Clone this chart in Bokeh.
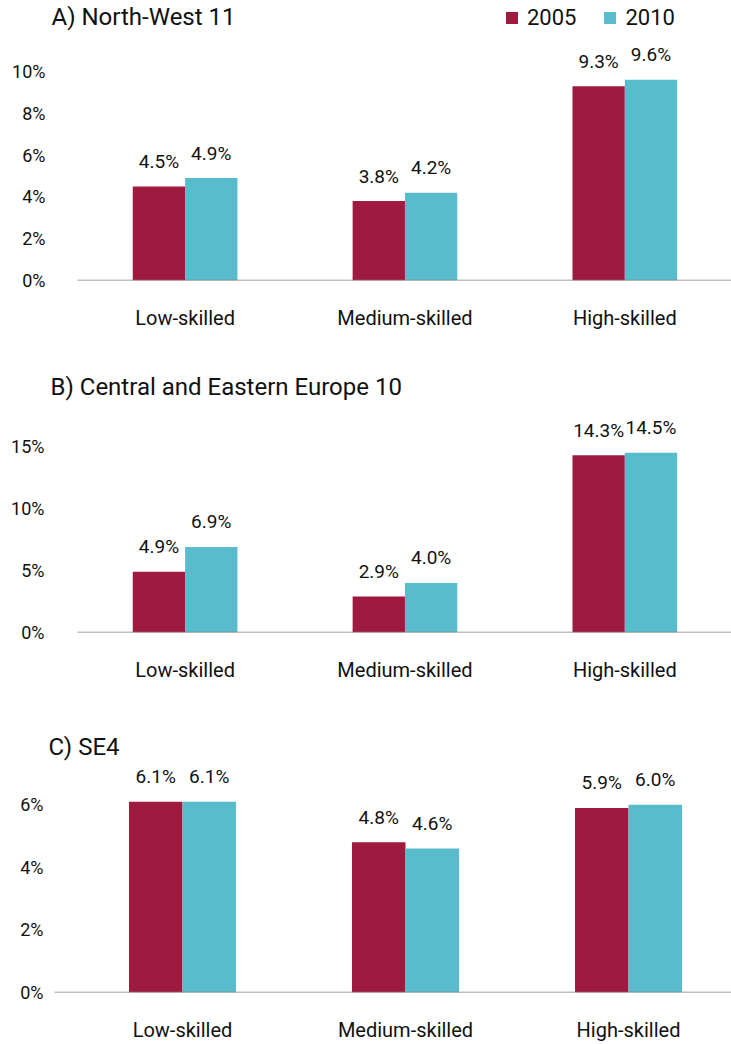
import numpy as np
from bokeh.plotting import figure
from bokeh.layouts import column
from bokeh.models import (ColumnDataSource, Range1d, FixedTicker, PrintfTickFormatter,
                          Label, Legend, LegendItem)
from bokeh.core.properties import value
from bokeh.embed import file_html
from bokeh.resources import INLINE

# ---- data ----
categories = ["Low-skilled", "Medium-skilled", "High-skilled"]
years = ["2005", "2010"]
nw_2005 = [4.5, 3.8, 9.3]
nw_2010 = [4.9, 4.2, 9.6]
cee_2005 = [4.9, 2.9, 14.3]
cee_2010 = [6.9, 4.0, 14.5]
se_2005 = [6.1, 4.8, 5.9]
se_2010 = [6.1, 4.6, 6.0]
titles = ["A) North-West 11", "B) Central and Eastern Europe 10", "C) SE4"]
ticks_a = [0, 2, 4, 6, 8, 10]
ticks_b = [0, 5, 10, 15]
ticks_c = [0, 2, 4, 6]

RED = "#9E1A3E"
CYAN = "#58BCCC"
GREY = "#808080"
FONT = "Roboto"
TXT = "#111111"
W = 731


def panel(v05, v10, title, ticks, height, frame_h, px_per_pct, left_border,
          center0, px_per_cat, tick_standoff, cat_standoff, title_xy, bar_w,
          baseline_left, legend=False):
    x_start = -(center0 - left_border) / px_per_cat
    x_end = x_start + (W - left_border) / px_per_cat
    p = figure(width=W, height=height, output_backend="svg", toolbar_location=None,
               x_range=Range1d(x_start, x_end), y_range=Range1d(0, frame_h / px_per_pct),
               min_border_left=left_border, min_border_right=0, min_border_top=0,
               min_border_bottom=height - frame_h)
    p.outline_line_color = None
    p.grid.grid_line_color = None
    p.background_fill_color = None
    p.border_fill_color = None
    x = np.arange(len(categories))
    src = ColumnDataSource(dict(
        x05=x - bar_w / 2, x10=x + bar_w / 2, v05=v05, v10=v10,
        t05=[f"{v:.1f}%" for v in v05], t10=[f"{v:.1f}%" for v in v10]))
    r1 = p.vbar(x="x05", top="v05", width=bar_w, source=src, fill_color=RED, line_color=None)
    r2 = p.vbar(x="x10", top="v10", width=bar_w, source=src, fill_color=CYAN, line_color=None)
    for col_x, col_y, col_t in (("x05", "v05", "t05"), ("x10", "v10", "t10")):
        p.text(x=col_x, y=col_y, text=col_t, source=src, text_align="center",
               text_baseline="middle", y_offset=-25, text_font=value(FONT),
               text_font_size="19px", text_color=TXT)
    # baseline
    bx0 = x_start + (baseline_left - left_border) / px_per_cat
    p.segment(x0=[bx0], y0=[0], x1=[x_end], y1=[0], line_color=GREY, line_width=1.5)
    # axes
    p.xaxis.axis_line_color = None
    p.xaxis.ticker = FixedTicker(ticks=list(x))
    p.xaxis.major_label_overrides = {int(i): c for i, c in zip(x, categories)}
    p.xaxis.major_tick_line_color = None
    p.xaxis.minor_tick_line_color = None
    p.xaxis.major_tick_out = 0
    p.xaxis.major_tick_in = 0
    p.xaxis.major_label_standoff = cat_standoff
    p.xaxis.major_label_text_font = FONT
    p.xaxis.major_label_text_font_size = "20px"
    p.xaxis.major_label_text_color = TXT
    p.yaxis.ticker = FixedTicker(ticks=ticks)
    p.yaxis.formatter = PrintfTickFormatter(format="%d%%")
    p.yaxis.axis_line_color = None
    p.yaxis.major_tick_line_color = None
    p.yaxis.minor_tick_line_color = None
    p.yaxis.major_tick_out = 0
    p.yaxis.major_tick_in = 0
    p.yaxis.major_label_standoff = tick_standoff
    p.yaxis.major_label_text_font = FONT
    p.yaxis.major_label_text_font_size = "18px"
    p.yaxis.major_label_text_color = TXT
    p.add_layout(Label(x=title_xy[0], y=title_xy[1], x_units="screen", y_units="screen",
                       text=title, text_font=FONT, text_font_size="24px",
                       text_baseline="middle", text_color=TXT))
    if legend:
        lg = Legend(items=[LegendItem(label=years[0], renderers=[r1]),
                           LegendItem(label=years[1], renderers=[r2])],
                    location=(502 - left_border, frame_h - 30), orientation="horizontal",
                    glyph_width=15, glyph_height=15, label_standoff=8, spacing=26,
                    padding=0, margin=0, border_line_color=None,
                    background_fill_alpha=0, label_text_font=FONT,
                    label_text_font_size="22px", label_text_color=TXT)
        p.add_layout(lg)
    return p


# Panel A: frame 280px tall, 20.9 px per %
pa = panel(nw_2005, nw_2010, titles[0], ticks_a, height=350, frame_h=280,
           px_per_pct=20.9, left_border=46, center0=183, px_per_cat=220.5,
           tick_standoff=3, cat_standoff=25, title_xy=(3, 264), bar_w=0.238,
           baseline_left=75, legend=True)
# Panel B: frame 282px tall, 12.4 px per %
pb = panel(cee_2005, cee_2010, titles[1], ticks_b, height=360, frame_h=282,
           px_per_pct=12.4, left_border=46, center0=183, px_per_cat=220.5,
           tick_standoff=4, cat_standoff=25, title_xy=(2, 246), bar_w=0.238,
           baseline_left=75)
# Panel C: frame 284px tall, 31.5 px per %
pc = panel(se_2005, se_2010, titles[2], ticks_c, height=334, frame_h=284,
           px_per_pct=31.5, left_border=48, center0=182, px_per_cat=223,
           tick_standoff=5, cat_standoff=25, title_xy=(0, 246), bar_w=0.24,
           baseline_left=54)

layout = column(pa, pb, pc, spacing=0)
open("out.html", "w").write(file_html(layout, INLINE))
